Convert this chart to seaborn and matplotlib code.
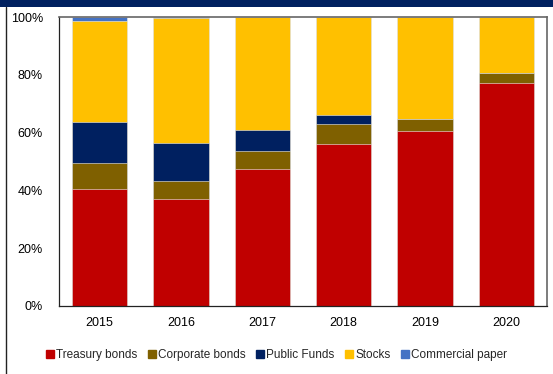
import matplotlib
matplotlib.use("Agg")
import matplotlib.pyplot as plt
import seaborn as sns
import pandas as pd
import numpy as np
from matplotlib.patches import Rectangle
from matplotlib.lines import Line2D

years = ["2015", "2016", "2017", "2018", "2019", "2020"]
treasury = [40.6, 37.1, 47.3, 56.0, 60.4, 77.3]
corporate = [8.8, 6.2, 6.2, 7.0, 4.4, 3.2]
public_funds = [14.2, 13.0, 7.5, 3.2, 0.0, 0.0]
stocks = [34.9, 43.4, 39.0, 33.8, 35.2, 19.5]
commercial = [1.5, 0.3, 0.0, 0.0, 0.0, 0.0]

series_names = ["Treasury bonds", "Corporate bonds", "Public Funds", "Stocks", "Commercial paper"]
series_vals = [treasury, corporate, public_funds, stocks, commercial]
colors = ["#C00000", "#7F6000", "#002060", "#FFC000", "#4472C4"]
yticks = [0, 20, 40, 60, 80, 100]
ytick_labels = ["0%", "20%", "40%", "60%", "80%", "100%"]

sns.set_theme(style="white")
plt.rcParams['font.family'] = ['Liberation Sans', 'DejaVu Sans']

fig = plt.figure(figsize=(5.53, 3.74), dpi=100)
ax = fig.add_axes([59/553, 1-306/374, 488/553, 289/374])

cum = np.cumsum(np.array(series_vals), axis=0)
for i in range(len(series_names) - 1, -1, -1):
    df = pd.DataFrame({"year": years, "val": cum[i]})
    sns.barplot(data=df, x="year", y="val", color=colors[i], saturation=1,
                width=0.68, ax=ax, edgecolor="#f0f0f0", linewidth=0.4, errorbar=None)

ax.set_ylim(0, 100)
ax.set_xlim(-0.5, 5.5)
ax.set_yticks(yticks)
ax.set_yticklabels(ytick_labels)
ax.set_xlabel("")
ax.set_ylabel("")
ax.tick_params(axis="both", length=0, labelsize=9, colors="black")
ax.tick_params(axis="y", pad=11.5)
ax.tick_params(axis="x", pad=8)
for s in ["top", "right"]:
    ax.spines[s].set_color("#666666")
    ax.spines[s].set_linewidth(1.2)
for s in ["left", "bottom"]:
    ax.spines[s].set_color("#222222")
    ax.spines[s].set_linewidth(0.9)

handles = [Line2D([0], [0], marker="s", linestyle="none", markersize=6,
                  markerfacecolor=c, markeredgecolor=c) for c in colors]
fig.legend(handles, series_names, loc="center", bbox_to_anchor=(276/553, 1-355/374),
           ncol=5, frameon=False, fontsize=8.5, handletextpad=0.05, columnspacing=0.8,
           handlelength=0.9)

# decorative frame: top navy band and left line
fig.patches.append(Rectangle((0, 1-7/374), 1, 7/374, transform=fig.transFigure,
                             facecolor="#00205F", edgecolor="none"))
fig.lines.append(Line2D([6/553, 6/553], [0, 1-7/374], transform=fig.transFigure,
                        color="#222222", linewidth=1.0))

fig.savefig("out.png", dpi=100)
